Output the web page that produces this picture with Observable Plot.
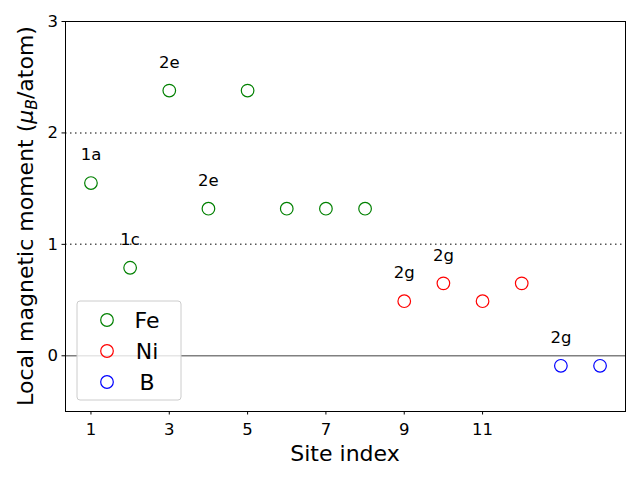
<!DOCTYPE html>
<html>
<head>
<meta charset="utf-8">
<script src="https://cdn.jsdelivr.net/npm/d3@7"></script>
<script src="https://cdn.jsdelivr.net/npm/@observablehq/plot@0.6"></script>
<style>
  html, body { margin: 0; padding: 0; background: #fff; }
  svg { font-family: "DejaVu Sans", sans-serif; }
</style>
</head>
<body>
<div id="chart"></div>
<script>
const feSites = [1, 2, 3, 4, 5, 6, 7, 8];
const feMoments = [1.55, 0.79, 2.38, 1.32, 2.38, 1.32, 1.32, 1.32];
const niSites = [9, 10, 11, 12];
const niMoments = [0.49, 0.65, 0.49, 0.65];
const bSites = [13, 14];
const bMoments = [-0.09, -0.09];
const labelSites = [1, 2, 3, 4, 9, 10, 13];
const labelMoments = [1.55, 0.79, 2.38, 1.32, 0.49, 0.65, -0.09];
const labelTexts = ["1a", "1c", "2e", "2e", "2g", "2g", "2g"];
const xTicks = [1, 3, 5, 7, 9, 11];
const yTicks = [0, 1, 2, 3];
const species = ["Fe", "Ni", "B"];
const speciesColors = ["green", "red", "blue"];

const pts = [
  ...feSites.map((s, i) => ({site: s, m: feMoments[i], sp: "Fe"})),
  ...niSites.map((s, i) => ({site: s, m: niMoments[i], sp: "Ni"})),
  ...bSites.map((s, i) => ({site: s, m: bMoments[i], sp: "B"}))
];
const labels = labelSites.map((s, i) => ({site: s, m: labelMoments[i], t: labelTexts[i]}));

const W = 640, H = 480, ml = 65, mr = 15, mt = 21, mb = 69;
const TF = 16.5;

const plot = Plot.plot({
  width: W, height: H,
  marginLeft: ml, marginRight: mr, marginTop: mt, marginBottom: mb,
  style: {fontFamily: "DejaVu Sans, sans-serif", color: "#000", background: "#fff"},
  x: {domain: [0.35, 14.65], label: null},
  y: {domain: [-0.5, 3], label: null},
  color: {domain: species, range: speciesColors},
  marks: [
    Plot.ruleY([1, 2], {stroke: "#555", strokeWidth: 1.5, strokeDasharray: "1.5,3.5"}),
    Plot.ruleY([0], {stroke: "gray", strokeWidth: 1.5}),
    Plot.dot(pts, {x: "site", y: "m", stroke: "sp", r: 6.3, strokeWidth: 1.2, fill: "none"}),
    Plot.text(labels, {x: "site", y: "m", text: "t", dy: -28, fill: "#000"}),
    Plot.frame({stroke: "#000", strokeWidth: 1}),
    Plot.axisX({ticks: xTicks, tickFormat: d => String(d), label: null, tickSize: 3.5, tickPadding: 8}),
    Plot.axisY({ticks: yTicks, tickFormat: d => String(d), label: null, tickSize: 3.5, tickPadding: 4})
  ]
});

const svg = d3.select(plot);
svg.selectAll("[aria-label='x-axis tick label'], [aria-label='y-axis tick label'], [aria-label='text']")
  .style("font-size", TF + "px");
svg.selectAll("[aria-label='x-axis tick label'] text, [aria-label='y-axis tick label'] text, [aria-label='text'] text")
  .style("font-size", TF + "px");

// axis labels
svg.append("text")
  .attr("x", ml + (W - ml - mr) / 2).attr("y", 461)
  .attr("text-anchor", "middle").style("font-size", "22px").attr("fill", "#000")
  .text("Site index");

const yl = svg.append("text")
  .attr("transform", `translate(33,${mt + (H - mt - mb) / 2}) rotate(-90)`)
  .attr("text-anchor", "middle").style("font-size", "22px").attr("fill", "#000");
yl.append("tspan").text("Local magnetic moment (");
yl.append("tspan").attr("font-style", "italic").text("μ");
yl.append("tspan").attr("font-style", "italic").style("font-size", "15.5px").attr("dy", 4).text("B");
yl.append("tspan").attr("dy", -4).text("/atom)");

// legend
const lg = svg.append("g").attr("transform", "translate(77,301)");
lg.append("rect").attr("width", 104).attr("height", 99).attr("rx", 3)
  .attr("fill", "#fff").attr("fill-opacity", 0.8).attr("stroke", "#ccc").attr("stroke-width", 1);
species.forEach((s, i) => {
  const cy = 19 + i * 31;
  lg.append("circle").attr("cx", 30).attr("cy", cy).attr("r", 6.3)
    .attr("fill", "none").attr("stroke", speciesColors[i]).attr("stroke-width", 1.2);
  lg.append("text").attr("x", 70).attr("y", cy).attr("dy", "0.35em")
    .style("font-size", "22px").attr("fill", "#000").text(s);
});

document.getElementById("chart").appendChild(plot);
</script>
</body>
</html>
